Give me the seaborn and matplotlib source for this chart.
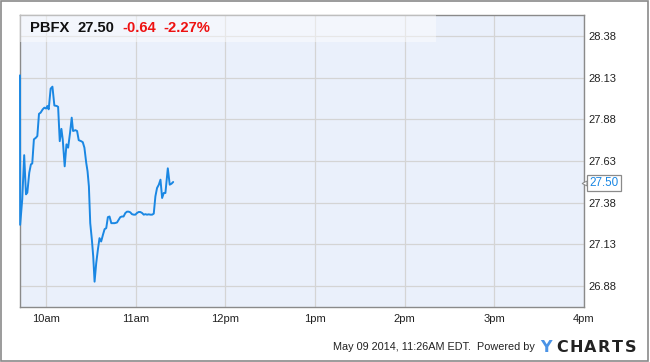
import numpy as np
import pandas as pd
import matplotlib
matplotlib.use("Agg")
import matplotlib.pyplot as plt
from matplotlib.patches import Rectangle
import seaborn as sns

# ---- data (minutes after 10:00 am, price) ----
minutes = [-17.4, -17.3, -15.9, -14.6, -13.4, -12.5, -11.2, -10.1, -9.2, -8.1, -6.7, -5.8,
           -4.7, -3.6, -2.2, -1.1, 0.0, 0.9, 1.8, 3.1, 4.3, 5.6, 7.2, 8.1, 9.2, 10.3,
           11.2, 12.5, 13.7, 14.8, 16.1, 17.2, 18.1, 19.7, 20.8, 21.9, 23.5, 24.6,
           25.7, 26.9, 27.8, 28.7, 29.6, 30.7, 31.6, 32.5, 33.6, 34.7, 35.8, 36.9,
           38.1, 39.2, 40.3, 41.4, 42.5, 43.7, 44.8, 45.9, 47.5, 48.6, 49.7, 50.8,
           51.9, 53.1, 54.2, 55.3, 56.4, 57.5, 58.7, 59.8, 60.9, 62.0, 63.1, 64.3,
           65.4, 66.5, 67.6, 68.7, 69.9, 71.0, 72.1, 73.2, 74.3, 75.5, 76.6, 77.7,
           78.8, 79.9, 81.5, 82.8, 84.0, 85.1]
prices = [28.144, 27.247, 27.40, 27.665, 27.43, 27.44, 27.56, 27.61, 27.615, 27.76, 27.77, 27.78,
          27.913, 27.92, 27.94, 27.95, 27.945, 27.96, 27.94, 28.064, 28.076, 27.963, 27.96, 27.955,
          27.749, 27.823, 27.759, 27.598, 27.73, 27.71, 27.80, 27.89, 27.81, 27.815, 27.81,
          27.755, 27.749, 27.743, 27.71, 27.62, 27.568, 27.478, 27.257, 27.157, 27.057, 26.906,
          27.017, 27.097, 27.167, 27.147, 27.187, 27.221, 27.227, 27.293, 27.297, 27.257,
          27.257, 27.257, 27.261, 27.277, 27.293, 27.297, 27.297, 27.318, 27.326, 27.326,
          27.322, 27.311, 27.308, 27.308, 27.318, 27.324, 27.324, 27.318, 27.308, 27.311,
          27.308, 27.31, 27.308, 27.308, 27.314, 27.418, 27.468, 27.488, 27.518, 27.408,
          27.438, 27.438, 27.586, 27.488, 27.494, 27.504]

y_ticks = [26.88, 27.13, 27.38, 27.63, 27.88, 28.13, 28.38]
x_hours = [10, 11, 12, 13, 14, 15, 16]
x_labels = ["10am", "11am", "12pm", "1pm", "2pm", "3pm", "4pm"]

ticker = "PBFX"
last_price = "27.50"
change = "-0.64"
change_pct = "-2.27%"
last_value = 27.50
footer = "May 09 2014, 11:26AM EDT.  Powered by"

df = pd.DataFrame({"hour": 10 + np.array(minutes) / 60.0, "price": prices})

# ---- styling ----
sns.set_style("white")
plt.rcParams["font.family"] = ["Liberation Sans", "DejaVu Sans"]

W, H = 650, 362
fig = plt.figure(figsize=(W / 100, H / 100), dpi=100)
fig.patch.set_facecolor("white")

L, R, T, B = 20, 584, 15, 307
ax = fig.add_axes([L / W, 1 - B / H, (R - L) / W, (B - T) / H])
ax.set_facecolor("#eaf0fb")

sns.lineplot(data=df, x="hour", y="price", ax=ax, color="#1a87e3", linewidth=1.4,
             estimator=None, sort=False, zorder=5)
for ln in ax.get_lines():
    ln.set_clip_on(False)

ax.set_xlim(9.710, 16.0)
ax.set_ylim(26.754, 28.506)

ax.set_xticks(x_hours)
ax.set_xticklabels(x_labels)
ax.set_yticks(y_ticks)
ax.set_yticklabels([f"{v:.2f}" for v in y_ticks])
ax.yaxis.tick_right()
ax.tick_params(axis="both", length=0, labelsize=8, colors="#222222")
ax.tick_params(axis="y", pad=3)
ax.tick_params(axis="x", pad=5)
ax.set_xlabel("")
ax.set_ylabel("")
ax.grid(True, color="#d4d4d4", linewidth=0.9)
ax.set_axisbelow(True)
for s in ax.spines.values():
    s.set_visible(True)
    s.set_color("#8a8a8a")
    s.set_linewidth(1.0)

# header band
ax.add_patch(Rectangle((0, (B - 42) / (B - T)), (436 - L) / (R - L), 1 - (B - 42) / (B - T),
                       transform=ax.transAxes, facecolor="white", alpha=0.45,
                       edgecolor="none", zorder=3))

# title pieces
ty = 1 - 28.5 / H
tfs = 10.6
fig.text(30 / W, ty, ticker, fontsize=tfs, fontweight="bold", color="#111111", va="center")
fig.text(78 / W, ty, last_price, fontsize=tfs, fontweight="bold", color="#111111", va="center")
fig.text(122.5 / W, ty, change, fontsize=tfs, fontweight="bold", color="#ee1111", va="center")
fig.text(163 / W, ty, change_pct, fontsize=tfs, fontweight="bold", color="#ee1111", va="center")

# last price label on the right axis
ax.annotate(last_price, xy=(1.0, last_value), xycoords=("axes fraction", "data"),
            xytext=(3.8, 0), textcoords="offset points", va="center", ha="left",
            fontsize=8.4, color="#1a87e3", zorder=10, annotation_clip=False,
            bbox=dict(boxstyle="square,pad=0.18", fc="white", ec="#8a8a8a", lw=0.9))
ax.plot([1.0], [last_value], marker="<", markersize=3.5, color="#8a8a8a",
        transform=ax.get_yaxis_transform(), clip_on=False, zorder=11,
        markerfacecolor="white", markeredgewidth=0.7)

# footer
fy = 1 - 347.5 / H
fig.text(535 / W, fy, footer, fontsize=7.8, color="#222222", ha="right", va="center")
fig.text(546 / W, fy, "Y", fontsize=11.5, fontweight="bold", color="#4a93e6",
         va="center", ha="center", family="DejaVu Sans")
letters = "CHARTS"
xs = [562, 576, 590, 604, 617, 631]
for ch, xx in zip(letters, xs):
    fig.text(xx / W, fy, ch, fontsize=11.5, fontweight="bold", color="#222222",
             va="center", ha="center", family="DejaVu Sans")

# outer border
fig.add_artist(Rectangle((0.5 / W, 1.5 / H), (W - 2.5) / W, (H - 2.5) / H, transform=fig.transFigure,
                         fill=False, edgecolor="#8a8a8a", linewidth=1.2))

fig.savefig("out.png", dpi=100, facecolor="white")
